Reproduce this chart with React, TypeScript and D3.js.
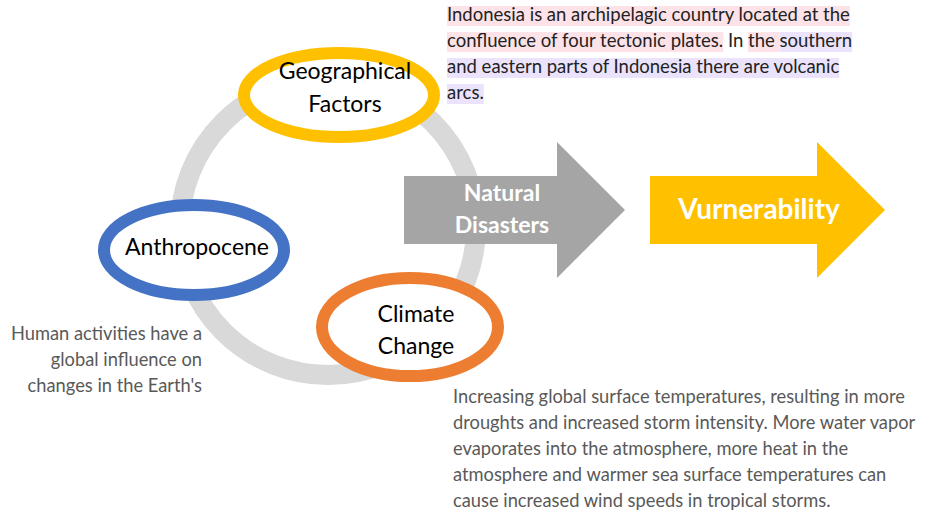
import React, { useEffect, useRef } from 'react';
import * as d3 from 'd3';

// Cycle nodes: label lines and ring colour
const nodeLabels: string[][] = [['Geographical', 'Factors'], ['Anthropocene'], ['Climate', 'Change']];
const nodeColors = ['#ffc000', '#4472c4', '#ed7d31'];

// Arrow captions
const arrowLabels: string[][] = [['Natural', 'Disasters'], ['Vurnerability']];
const arrowColors = ['#a5a5a5', '#ffc000'];

// Note text (highlighted segments)
const PINK = '#fde2e8';
const LAV = '#ebe3fb';
const topNote: { t: string; bg: string | null }[][] = [
  [{ t: 'Indonesia is an archipelagic country located at the', bg: PINK }],
  [
    { t: 'confluence of four tectonic plates.', bg: PINK },
    { t: ' In ', bg: null },
    { t: 'the ', bg: PINK },
    { t: 'southern', bg: LAV },
  ],
  [{ t: 'and eastern parts of Indonesia there are volcanic', bg: LAV }],
  [{ t: 'arcs.', bg: LAV }],
];
const leftNote = ['Human activities have a', 'global influence on', "changes in the Earth's"];
const bottomNote = [
  'Increasing global surface temperatures, resulting in more',
  'droughts and increased storm intensity. More water vapor',
  'evaporates into the atmosphere, more heat in the',
  'atmosphere and warmer sea surface temperatures can',
  'cause increased wind speeds in tropical storms.',
];

const W = 933;
const H = 516;
const FONT = 'Lato, "Open Sans", sans-serif';

export default function App() {
  const svgRef = useRef<SVGSVGElement>(null);

  useEffect(() => {
    if (!svgRef.current) return;
    const svg = d3.select(svgRef.current);
    svg.selectAll('*').remove();

    // grey ring behind the nodes
    svg.append('circle')
      .attr('cx', 328).attr('cy', 227).attr('r', 148)
      .attr('fill', 'none').attr('stroke', '#d9d9d9').attr('stroke-width', 20);

    // arrows
    const arrows = [
      { x0: 404, x1: 557, tip: 625, tx: 502, lines: arrowLabels[0], size: 23 },
      { x0: 650, x1: 817, tip: 885, tx: 759, lines: arrowLabels[1], size: 28 },
    ];
    const bodyTop = 176, bodyBot = 244, headTop = 142, headBot = 278, midY = 210;
    const line = d3.line();
    arrows.forEach((a, i) => {
      const pts: [number, number][] = [
        [a.x0, bodyTop], [a.x1, bodyTop], [a.x1, headTop], [a.tip, midY],
        [a.x1, headBot], [a.x1, bodyBot], [a.x0, bodyBot],
      ];
      svg.append('path').attr('d', line(pts) + 'Z').attr('fill', arrowColors[i]);
      const lh = 32;
      const y0 = a.lines.length === 1 ? 219 : 201;
      a.lines.forEach((l, j) => {
        svg.append('text')
          .attr('x', a.tx).attr('y', y0 + j * lh)
          .attr('text-anchor', 'middle')
          .attr('font-family', FONT).attr('font-weight', 700)
          .attr('font-size', a.size).attr('fill', '#fff')
          .text(l);
      });
    });

    // ellipse nodes
    const nodes = [
      { cx: 339, cy: 95, rx: 95, ry: 42, ty: [79, 112] },
      { cx: 194, cy: 250, rx: 90, ry: 45, ty: [255] },
      { cx: 410, cy: 327, rx: 88, ry: 49, ty: [322, 354] },
    ];
    nodes.forEach((n, i) => {
      svg.append('ellipse')
        .attr('cx', n.cx).attr('cy', n.cy).attr('rx', n.rx).attr('ry', n.ry)
        .attr('fill', '#fff').attr('stroke', nodeColors[i]).attr('stroke-width', 12);
      nodeLabels[i].forEach((l, j) => {
        svg.append('text')
          .attr('x', n.cx + (i === 1 ? 3 : 6)).attr('y', n.ty[j])
          .attr('text-anchor', 'middle')
          .attr('font-family', FONT).attr('font-size', 23).attr('fill', '#000')
          .text(l);
      });
    });

    // top note with highlight boxes
    const noteX = 447;
    topNote.forEach((segs, i) => {
      const y = 21 + i * 26;
      const bg = svg.append('g');
      const t = svg.append('text')
        .attr('x', noteX).attr('y', y)
        .attr('font-family', FONT).attr('font-size', 18.5).attr('fill', '#222')
        .attr('xml:space', 'preserve')
        .style('white-space', 'pre');
      let x = noteX;
      segs.forEach(s => {
        const ts = t.append('tspan').text(s.t);
        const w = (ts.node() as SVGTSpanElement).getComputedTextLength();
        if (s.bg) {
          bg.append('rect').attr('x', x).attr('y', y - 15).attr('width', w).attr('height', 20)
            .attr('fill', s.bg);
        }
        x += w;
      });
    });

    // left note, right aligned
    leftNote.forEach((l, i) => {
      svg.append('text')
        .attr('x', 202).attr('y', 340 + i * 26)
        .attr('text-anchor', 'end')
        .attr('font-family', FONT).attr('font-size', 18.3).attr('fill', '#595959')
        .text(l);
    });

    // bottom note
    bottomNote.forEach((l, i) => {
      svg.append('text')
        .attr('x', 453).attr('y', 403 + i * 26)
        .attr('font-family', FONT).attr('font-size', 18.3).attr('fill', '#595959')
        .text(l);
    });
  }, []);

  return (
    <div style={{ position: 'absolute', left: 0, top: 0, width: W, height: H, background: '#fff' }}>
      <svg ref={svgRef} width={W} height={H} style={{ display: 'block' }} />
    </div>
  );
}
